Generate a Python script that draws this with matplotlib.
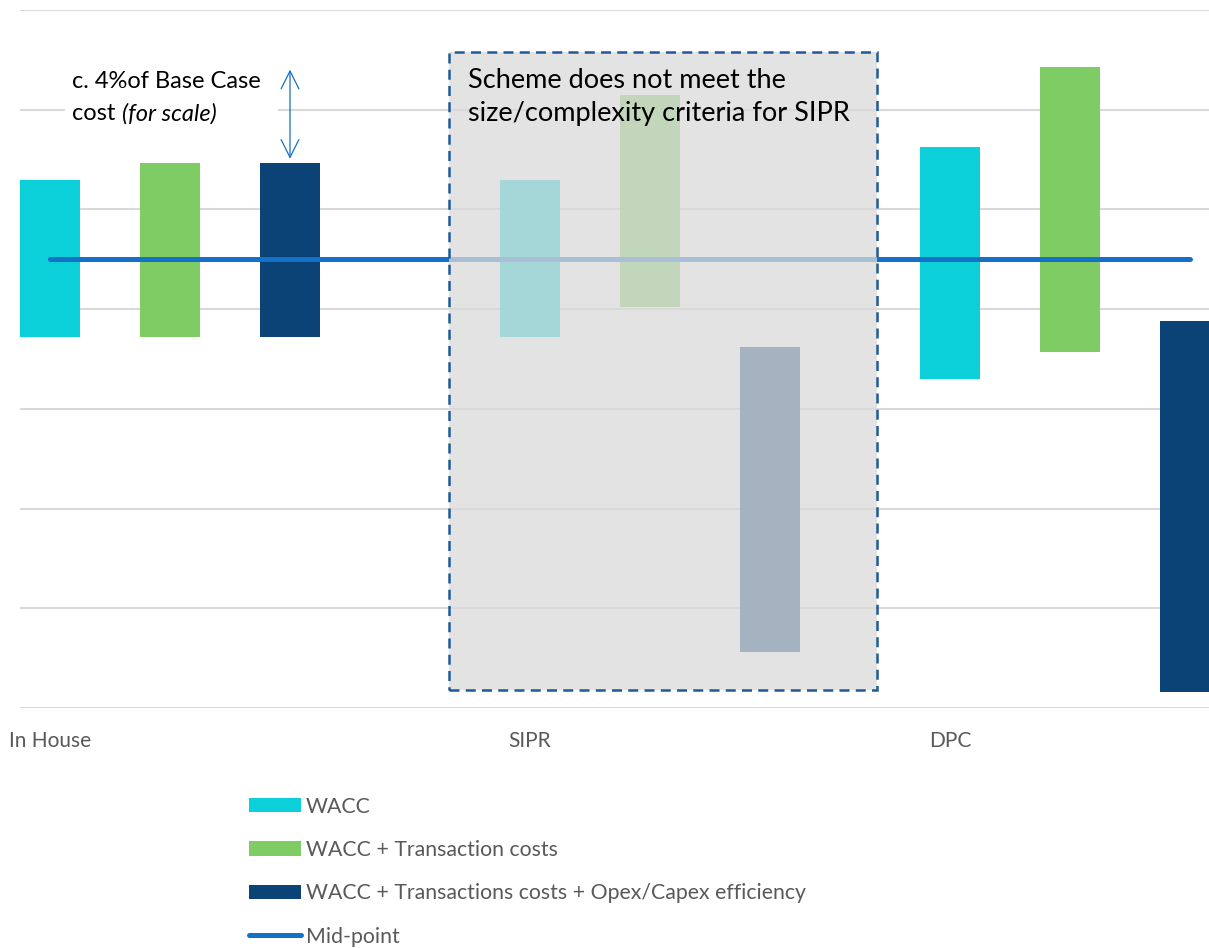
import numpy as np
import matplotlib.pyplot as plt
from matplotlib.patches import Rectangle, Patch
from matplotlib.lines import Line2D

plt.rcParams['font.family'] = ['Lato', 'DejaVu Sans']

# data
groups = ["In House", "SIPR", "DPC"]
group_x = [0.0, 4.0, 7.5]
series = ["WACC", "WACC + Transaction costs",
          "WACC + Transactions costs + Opex/Capex efficiency"]
colors = ["#0BD0D9", "#7ECC63", "#0C4377"]
low = [[3.72, 3.72, 3.72],
       [3.72, 4.02, 0.56],
       [3.30, 3.57, 0.16]]
high = [[5.30, 5.47, 5.47],
        [5.30, 6.15, 3.62],
        [5.63, 6.43, 3.88]]
midpoint = 4.50
line_color = "#1570C7"

fig = plt.figure(figsize=(12.09, 9.48), dpi=100)
ax = fig.add_axes([20/1209, (948-708)/948, 1189/1209, 698/948])

xs_all = []
for g, gx in enumerate(group_x):
    for s in range(3):
        x = gx + s
        xs_all.append(x)
        ax.bar(x, high[g][s]-low[g][s], bottom=low[g][s], width=0.5,
               color=colors[s], zorder=3)

ax.plot(xs_all, [midpoint]*len(xs_all), color=line_color, lw=3.6,
        solid_capstyle='round', zorder=4)

# grey box over SIPR
box = Rectangle((3.325, 0.18), 6.89-3.325, 6.58-0.18, facecolor="#DADADA",
                alpha=0.75, edgecolor='none', zorder=5)
ax.add_patch(box)
ax.add_patch(Rectangle((3.325, 0.18), 6.89-3.325, 6.58-0.18, facecolor='none',
                       edgecolor="#1F5A96", lw=1.8, linestyle=(0, (4, 2.5)),
                       zorder=6))
ax.text(3.48, 6.125, "Scheme does not meet the\nsize/complexity criteria for SIPR",
        fontsize=19.5, va='center', ha='left', color='black', zorder=7,
        linespacing=1.38)

# scale annotation (white backing hides the gridline)
ax.add_patch(Rectangle((0.125, 5.8), 1.775, 0.7, facecolor='white',
                       edgecolor='none', zorder=2))
ax.text(0.183, 6.28, "c. 4%of Base Case", fontsize=17, va='center',
        ha='left', color='black', zorder=7)
t2 = ax.text(0.183, 5.96, "cost", fontsize=17, va='center', ha='left',
             color='black', zorder=7)
ax.annotate("(for scale)", xy=(1, 0.5), xycoords=t2, xytext=(5, 0),
            textcoords='offset points', fontsize=17, style='italic',
            va='center', ha='left', color='black', zorder=8)
ax.annotate("", xy=(2.0, 5.48), xytext=(2.0, 6.43),
            arrowprops=dict(arrowstyle='<->', color=line_color, lw=0.9,
                            mutation_scale=32), zorder=7)

# axes style
ax.set_xlim(-0.25, (1209-50)/120)
ax.set_ylim(0, 7)
ax.set_yticks(np.arange(0, 8))
ax.yaxis.grid(True, color="#D9D9D9", lw=1.5, zorder=0)
ax.set_axisbelow(True)
for sp in ax.spines.values():
    sp.set_visible(False)
ax.tick_params(left=False, labelleft=False, bottom=False, labelbottom=False)
for gx, name in zip(group_x, groups):
    ax.text(gx, -0.33, name, ha='center', va='center', fontsize=15,
            color="#595959", clip_on=False)

handles = [Patch(facecolor=c) for c in colors]
handles.append(Line2D([0], [0], color=line_color, lw=3.6, solid_capstyle='round'))
fig.legend(handles, series + ["Mid-point"], loc='upper left',
           bbox_to_anchor=(238/1209, 1-786/948), frameon=False, fontsize=15.3,
           handlelength=2.45, handleheight=0.66, handletextpad=0.24,
           labelspacing=1.1, labelcolor="#595959", borderpad=0)

fig.savefig("out.png", dpi=100)
